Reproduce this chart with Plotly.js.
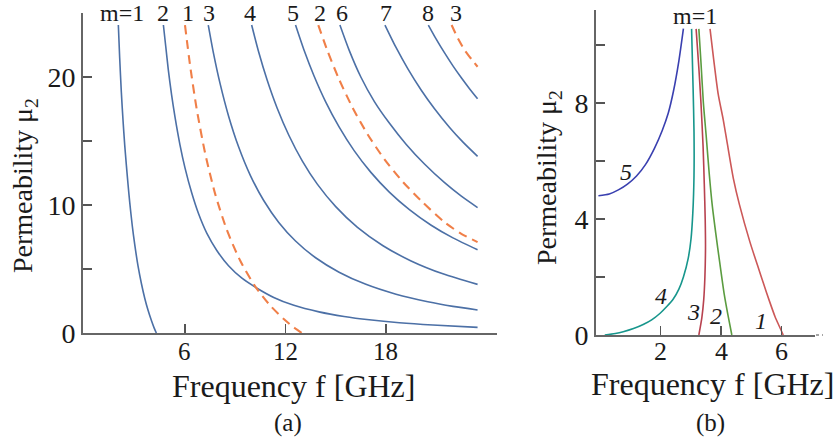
<!DOCTYPE html>
<html>
<head>
<meta charset="utf-8">
<script src="https://cdn.plot.ly/plotly-3.0.1.min.js"></script>
<style>html,body{margin:0;padding:0;background:#fff;}#chart{width:833px;height:442px;}</style>
</head>
<body>
<div id="chart"></div>
<script>
// ---------- Panel (a): solid blue curves m = 1..8 (f in GHz, mu2) ----------
const a_m1_f  = [2.02, 2.1, 2.2, 2.3, 2.4, 2.5, 2.6, 2.7, 2.85, 3.0, 3.2, 3.4, 3.6, 3.8, 4.0, 4.15, 4.29];
const a_m1_mu = [24.06, 21.5, 18.8, 16.6, 14.7, 13.1, 11.6, 10.2, 8.4, 6.9, 5.2, 3.85, 2.7, 1.75, 0.95, 0.42, 0];
const a_m2_f  = [4.71, 4.85, 5.0, 5.2, 5.4, 5.7, 6.0, 6.4, 6.8, 7.3, 7.9, 8.6, 9.4, 10.3, 11.3, 12.5, 14.0, 15.5, 17.0, 18.8, 20.8, 23.47];
const a_m2_mu = [24.06, 22.4, 20.6, 18.6, 16.9, 14.7, 12.9, 10.95, 9.35, 7.8, 6.45, 5.25, 4.28, 3.5, 2.78, 2.16, 1.65, 1.29, 1.03, 0.8, 0.62, 0.44];
const a_m3_f  = [7.39, 7.7, 8.1, 8.6, 9.2, 9.9, 10.7, 11.6, 12.6, 13.8, 15.2, 16.8, 18.6, 20.5, 22.0, 23.47];
const a_m3_mu = [24.06, 21.87, 19.46, 16.96, 14.55, 12.32, 10.35, 8.64, 7.19, 5.88, 4.75, 3.8, 3.03, 2.44, 2.08, 1.8];
const a_m4_f  = [9.98, 10.4, 10.9, 11.5, 12.2, 13.0, 13.9, 15.0, 16.3, 17.8, 19.5, 21.4, 23.47];
const a_m4_mu = [24.06, 21.95, 19.78, 17.58, 15.45, 13.45, 11.63, 9.87, 8.25, 6.84, 5.63, 4.62, 3.8];
const a_m5_f  = [12.6, 13.1, 13.7, 14.4, 15.2, 16.1, 17.1, 18.2, 19.4, 20.7, 22.0, 23.47];
const a_m5_mu = [24.06, 22.13, 20.1, 18.06, 16.1, 14.25, 12.55, 11.01, 9.64, 8.42, 7.43, 6.5];
const a_m6_f  = [15.25, 15.8, 16.5, 17.3, 18.2, 19.2, 20.3, 21.5, 22.5, 23.47];
const a_m6_mu = [24.06, 22.1, 20.0, 18.1, 16.4, 14.75, 13.2, 11.74, 10.69, 9.8];
const a_m7_f  = [17.94, 18.6, 19.3, 20.1, 20.9, 21.8, 22.6, 23.47];
const a_m7_mu = [24.06, 22.31, 20.66, 18.99, 17.52, 16.06, 14.91, 13.8];
const a_m8_f  = [20.53, 21.0, 21.5, 22.0, 22.5, 23.0, 23.47];
const a_m8_mu = [24.06, 22.96, 21.88, 20.87, 19.94, 19.07, 18.3];
// ---------- Panel (a): dashed orange curves 1..3 ----------
const a_d1_f  = [6.0, 6.3, 6.7, 7.2, 7.8, 8.5, 9.3, 10.2, 11.1, 12.0, 12.5, 12.97];
const a_d1_mu = [24.06, 20.94, 17.49, 14.06, 10.87, 8.05, 5.64, 3.63, 2.13, 0.97, 0.44, 0];
const a_d2_f  = [13.96, 14.5, 15.2, 16.0, 16.9, 17.9, 19.0, 20.2, 21.5, 22.5, 23.47];
const a_d2_mu = [24.06, 22.07, 19.82, 17.62, 15.53, 13.59, 11.82, 10.2, 8.65, 7.75, 7.1];
const a_d3_f  = [21.92, 22.3, 22.7, 23.1, 23.47];
const a_d3_mu = [24.06, 23.0, 22.1, 21.4, 20.8];

// ---------- Panel (b): curves 1..5 ----------
const b_c1_f  = [3.63, 3.75, 3.9, 4.07, 4.2, 4.4, 4.6, 4.95, 5.2, 5.39, 5.6, 5.78, 5.92, 6.05];
const b_c1_mu = [10.55, 9.5, 8.3, 7.4, 6.6, 5.4, 4.5, 3.2, 2.4, 1.8, 1.15, 0.63, 0.3, 0];
const b_c2_f  = [3.26, 3.33, 3.41, 3.5, 3.6, 3.7, 3.82, 3.95, 4.1, 4.22, 4.35];
const b_c2_mu = [10.55, 9.4, 8.0, 6.9, 5.6, 4.5, 3.5, 2.5, 1.4, 0.7, 0];
const b_c3_f  = [3.26, 3.36, 3.42, 3.46, 3.48, 3.47, 3.44, 3.4, 3.33, 3.26, 3.17];
const b_c3_mu = [0, 0.6, 1.2, 2.0, 3.0, 4.0, 5.2, 6.5, 8.0, 9.2, 10.55];
const b_c4_f  = [0.15, 0.5, 0.76, 1.1, 1.42, 1.7, 1.98, 2.2, 2.42, 2.6, 2.75, 2.91, 3.0, 3.06, 3.1, 3.1, 3.07, 3.02];
const b_c4_mu = [0, 0.05, 0.11, 0.22, 0.36, 0.52, 0.75, 0.98, 1.25, 1.58, 2.0, 2.65, 3.3, 4.2, 5.5, 7.0, 8.5, 10.55];
const b_c5_f  = [-0.06, 0.3, 0.6, 0.9, 1.2, 1.5, 1.8, 2.05, 2.25, 2.42, 2.6, 2.75];
const b_c5_mu = [4.8, 4.86, 5.0, 5.2, 5.48, 5.88, 6.45, 7.05, 7.65, 8.4, 9.45, 10.56];

// ---------- Ticks ----------
const a_xtickvals = [6, 12, 18];
const a_xticktext = ['6', '12', '18'];
const a_ytickvals = [0, 10, 20];
const a_yticktext = ['0', '10', '20'];
const a_yminor = [5, 15];
const b_xtickvals = [2, 4, 6];
const b_xticktext = ['2', '4', '6'];
const b_ytickvals = [0, 4, 8];
const b_yticktext = ['0', '4', '8'];
const b_yminor = [2, 6, 10];

const W = 833, H = 442;
const PX = p => p / W;
const PY = p => 1 - p / H;

const BLUE = '#4c70a6';
const ORANGE = '#f07f48';
const FONT = 'Liberation Serif';

function solid(x, y, color, ax) {
  return {x: x, y: y, type: 'scatter', mode: 'lines', xaxis: ax[0], yaxis: ax[1],
    line: {color: color, width: 1.6, shape: 'spline', smoothing: 0.7}, hoverinfo: 'skip'};
}
function dashed(x, y) {
  return {x: x, y: y, type: 'scatter', mode: 'lines', xaxis: 'x', yaxis: 'y',
    line: {color: ORANGE, width: 2.1, dash: '9px,6px', shape: 'spline', smoothing: 0.7}, hoverinfo: 'skip'};
}
const A = ['x', 'y'], B = ['x2', 'y2'];
const data = [
  solid(a_m1_f, a_m1_mu, BLUE, A), solid(a_m2_f, a_m2_mu, BLUE, A),
  solid(a_m3_f, a_m3_mu, BLUE, A), solid(a_m4_f, a_m4_mu, BLUE, A),
  solid(a_m5_f, a_m5_mu, BLUE, A), solid(a_m6_f, a_m6_mu, BLUE, A),
  solid(a_m7_f, a_m7_mu, BLUE, A), solid(a_m8_f, a_m8_mu, BLUE, A),
  dashed(a_d1_f, a_d1_mu), dashed(a_d2_f, a_d2_mu), dashed(a_d3_f, a_d3_mu),
  solid(b_c5_f, b_c5_mu, '#3a40b0', B), solid(b_c4_f, b_c4_mu, '#17968c', B),
  solid(b_c3_f, b_c3_mu, '#b8424f', B), solid(b_c2_f, b_c2_mu, '#5b9c40', B),
  solid(b_c1_f, b_c1_mu, '#cc5858', B)
];

function axis(domain, range, tv, tt, size, minorVals, showLabels) {
  const ax = {domain: domain, range: range, tickmode: 'array', tickvals: tv, ticktext: tt,
    ticks: 'inside', ticklen: 9, tickwidth: 1.5, tickcolor: '#555', showticklabels: showLabels,
    showline: true, linecolor: '#666', linewidth: 2, showgrid: false, zeroline: false,
    tickfont: {family: FONT, size: size, color: '#1a1a1a'}, fixedrange: true};
  if (minorVals) ax.minor = {tickmode: 'array', tickvals: minorVals, ticks: 'inside', ticklen: 9,
    tickwidth: 1.5, tickcolor: '#555', showgrid: false};
  return ax;
}

function lab(text, x, y, size, angle) {
  return {text: text, xref: 'paper', yref: 'paper', x: PX(x), y: PY(y), xanchor: 'center', yanchor: 'middle',
    showarrow: false, textangle: angle || 0, font: {family: FONT, size: size, color: '#1a1a1a'}};
}
// x tick labels placed on the data scale of each x axis, just under the axis line
function xTickLabels(vals, texts, xref, yPix, size) {
  return vals.map((v, i) => ({text: texts[i], xref: xref, yref: 'paper', x: v, y: PY(yPix),
    xanchor: 'center', yanchor: 'middle', showarrow: false,
    font: {family: FONT, size: size, color: '#1a1a1a'}}));
}

const annotations = [
  // panel (a) mode labels
  lab('m=1', 122, 13, 24), lab('2', 163, 13, 24), lab('1', 188, 13, 24), lab('3', 209, 13, 24),
  lab('4', 250, 13, 24), lab('5', 293, 13, 24), lab('2', 320, 13, 24), lab('6', 342, 13, 24),
  lab('7', 386, 13, 24), lab('8', 428, 13, 24), lab('3', 456, 13, 24),
  // panel (b) labels
  lab('m=1', 695, 16, 24),
  lab('<i>5</i>', 626, 172, 24), lab('<i>4</i>', 661, 296, 24), lab('<i>3</i>', 693, 312, 24),
  lab('<i>2</i>', 716, 316, 24), lab('<i>1</i>', 761, 321, 24),
  // axis titles
  lab('Frequency f [GHz]', 293, 386, 32), lab('Frequency f [GHz]', 712, 384, 32),
  lab('Permeability μ<sub>2</sub>', 24, 186, 28, -90), lab('Permeability μ<sub>2</sub>', 548, 178, 28, -90),
  // panel captions
  lab('(a)', 288, 423, 25), lab('(b)', 710, 423, 25)
].concat(
  xTickLabels(a_xtickvals, a_xticktext, 'x', 351, 25),
  xTickLabels(b_xtickvals, b_xticktext, 'x2', 351, 26)
);

const layout = {
  width: W, height: H, margin: {l: 0, r: 0, t: 0, b: 0},
  paper_bgcolor: '#ffffff', plot_bgcolor: 'rgba(0,0,0,0)', showlegend: false,
  xaxis: axis([PX(83), PX(497)], [-0.09, 24.63], a_xtickvals, a_xticktext, 25, null, false),
  yaxis: axis([PY(333), PY(13)], [0, 25], a_ytickvals, a_yticktext, 28, a_yminor, true),
  xaxis2: axis([PX(596), PX(815)], [-0.14, 7.1], b_xtickvals, b_xticktext, 26, null, false),
  yaxis2: axis([PY(335), PY(10)], [0, 11.2], b_ytickvals, b_yticktext, 28, b_yminor, true),
  annotations: annotations,
  shapes: [{type: 'line', xref: 'paper', yref: 'paper', x0: PX(816), x1: PX(823), y0: PY(335), y1: PY(335),
    line: {color: '#888', width: 1.5, dash: 'dot'}}]
};
layout.xaxis.anchor = 'y';
layout.yaxis.anchor = 'x';
layout.xaxis2.anchor = 'y2';
layout.yaxis2.anchor = 'x2';

Plotly.newPlot('chart', data, layout, {staticPlot: true, displayModeBar: false});
</script>
</body>
</html>
